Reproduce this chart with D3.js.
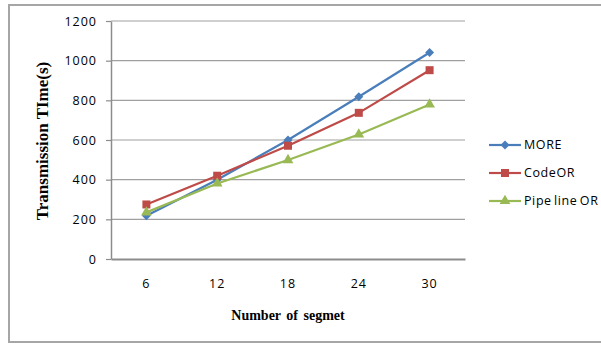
<!DOCTYPE html>
<html>
<head>
<meta charset="utf-8">
<script src="https://cdn.jsdelivr.net/npm/d3@7"></script>
<style>
  html, body { margin: 0; padding: 0; background: #fff; }
  svg { display: block; }
</style>
</head>
<body>
<svg id="chart" width="601" height="345"></svg>
<script>
// Segment counts on the x axis
const segments = ["6", "12", "18", "24", "30"];
// Transmission time (s) per protocol
const moreValues = [218, 400, 600, 818, 1041];
const codeOrValues = [275, 420, 571, 737, 952];
const pipelineOrValues = [235, 381, 499, 628, 779];
const seriesNames = ["MORE", "CodeOR", "Pipe line OR"];
const yTicks = [0, 200, 400, 600, 800, 1000, 1200];

// Square-proportioned diamond marker
const diamond = {
  draw(ctx, size) {
    const r = Math.sqrt(size / 2);
    ctx.moveTo(0, -r); ctx.lineTo(r, 0); ctx.lineTo(0, r); ctx.lineTo(-r, 0); ctx.closePath();
  }
};

const series = [
  { name: seriesNames[0], values: moreValues, color: "#4a7ebb", symbol: diamond, size: 40 },
  { name: seriesNames[1], values: codeOrValues, color: "#be4b48", symbol: d3.symbolSquare, size: 64 },
  { name: seriesNames[2], values: pipelineOrValues, color: "#98b954", symbol: d3.symbolTriangle, size: 50 }
];

const svg = d3.select("#chart");
const plot = { left: 111, top: 21, right: 465, bottom: 259 };

// Outer frame
svg.append("rect")
  .attr("x", 9).attr("y", 5)
  .attr("width", 600).attr("height", 337)
  .attr("fill", "none")
  .attr("stroke", "#a6a6a6")
  .attr("stroke-width", 2);

const x = d3.scaleBand().domain(segments).range([plot.left, plot.right]);
const y = d3.scaleLinear().domain([0, 1200]).range([plot.bottom, plot.top]);

// Horizontal gridlines
svg.append("g")
  .selectAll("line")
  .data(yTicks.filter(t => t > 0))
  .join("line")
  .attr("x1", plot.left).attr("x2", plot.right)
  .attr("y1", d => y(d)).attr("y2", d => y(d))
  .attr("stroke", "#a0a0a0")
  .attr("stroke-width", 1.2);

// Y axis
const yAxis = svg.append("g")
  .attr("transform", `translate(${plot.left},0)`)
  .call(d3.axisLeft(y).tickValues(yTicks).tickFormat(d3.format("d"))
    .tickSize(5).tickPadding(9).tickSizeOuter(0));
yAxis.select(".domain").attr("stroke", "#8c8c8c").attr("stroke-width", 1.5);
yAxis.selectAll(".tick line").attr("stroke", "#8c8c8c").attr("stroke-width", 1.2);
yAxis.selectAll(".tick text")
  .attr("font-family", "'Open Sans', sans-serif")
  .attr("font-size", 12.5)
  .attr("letter-spacing", 1)
  .attr("fill", "#000");

// X axis
const xAxis = svg.append("g")
  .attr("transform", `translate(0,${plot.bottom})`)
  .call(d3.axisBottom(x).tickSize(0).tickPadding(20).tickSizeOuter(0));
xAxis.select(".domain").attr("stroke", "#8c8c8c").attr("stroke-width", 2);
xAxis.selectAll(".tick text")
  .attr("font-family", "'Open Sans', sans-serif")
  .attr("font-size", 12.5)
  .attr("letter-spacing", 1)
  .attr("fill", "#000");

// Axis titles
svg.append("text")
  .attr("transform", `translate(48,${(plot.top + plot.bottom) / 2 + 1}) rotate(-90)`)
  .attr("text-anchor", "middle")
  .attr("font-family", "'Liberation Serif', 'Times New Roman', serif")
  .attr("font-weight", "bold")
  .attr("font-size", 17)
  .text("Transmission TIme(s)");

svg.append("text")
  .attr("x", 288).attr("y", 320)
  .attr("text-anchor", "middle")
  .attr("font-family", "'Liberation Serif', 'Times New Roman', serif")
  .attr("font-weight", "bold")
  .attr("font-size", 14)
  .attr("word-spacing", 2)
  .text("Number of segmet");

// Series lines and markers
const cx = d => x(d) + x.bandwidth() / 2;
series.forEach(s => {
  const pts = segments.map((c, i) => [cx(c), y(s.values[i])]);
  svg.append("path")
    .attr("d", d3.line()(pts))
    .attr("fill", "none")
    .attr("stroke", s.color)
    .attr("stroke-width", 2.2);
  svg.append("g")
    .selectAll("path")
    .data(pts)
    .join("path")
    .attr("transform", d => `translate(${d[0]},${d[1]})`)
    .attr("d", d3.symbol(s.symbol, s.size))
    .attr("fill", s.color);
});

// Legend
const legend = svg.append("g");
series.forEach((s, i) => {
  const ly = 145 + i * 28;
  legend.append("line")
    .attr("x1", 489).attr("x2", 521)
    .attr("y1", ly).attr("y2", ly)
    .attr("stroke", s.color)
    .attr("stroke-width", 2.2);
  legend.append("path")
    .attr("transform", `translate(505,${ly})`)
    .attr("d", d3.symbol(s.symbol, s.size))
    .attr("fill", s.color);
  legend.append("text")
    .attr("x", 524).attr("y", ly)
    .attr("dy", "0.35em")
    .attr("font-family", "'Open Sans', sans-serif")
    .attr("font-size", 12.5)
    .attr("letter-spacing", 0.6)
    .attr("word-spacing", -1.5)
    .text(s.name);
});
</script>
</body>
</html>
